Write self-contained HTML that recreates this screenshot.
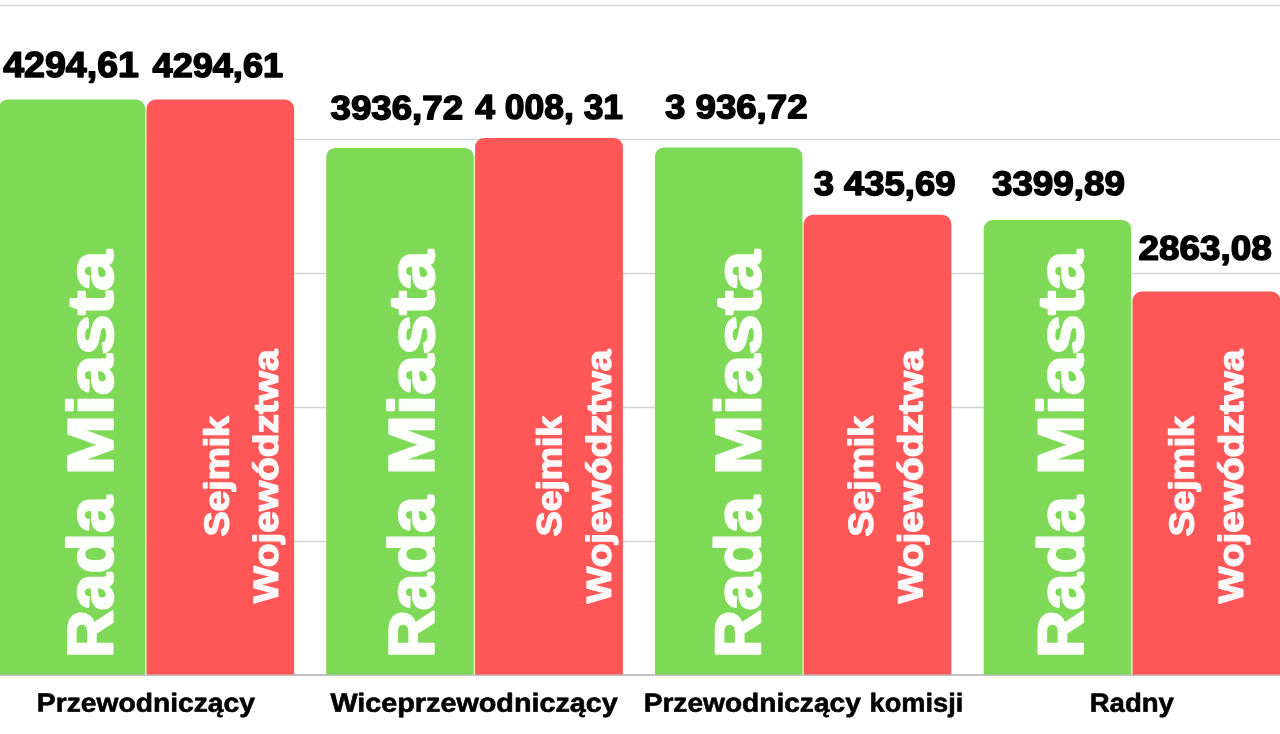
<!DOCTYPE html>
<html lang="pl">
<head>
<meta charset="utf-8">
<title>Diety radnych</title>
<style>
  html, body { margin: 0; padding: 0; background: #ffffff; }
  body { width: 1280px; height: 734px; overflow: hidden; font-family: "Liberation Sans", sans-serif; }
  svg { display: block; }
  text { font-family: "Liberation Sans", sans-serif; font-weight: bold; stroke-linejoin: round; }
  .val { fill: #000; stroke: #000; stroke-width: 1.5px; }
  .cat { fill: #000; stroke: #000; stroke-width: 0.6px; }
  .rada { fill: #fcfffa; stroke: #fcfffa; stroke-width: 2.4px; }
  .sejm { fill: #fff8f8; stroke: #fff8f8; stroke-width: 1.4px; }
  .grid { stroke: #d4d4d4; stroke-width: 1.5; }
  .g { fill: #7ed957; }
  .r { fill: #ff5757; }
</style>
</head>
<body>
<svg width="1280" height="734" viewBox="0 0 1280 734">
  <defs>
    <filter id="soft" filterUnits="userSpaceOnUse" x="-40" y="-40" width="1360" height="814" color-interpolation-filters="sRGB">
      <feGaussianBlur stdDeviation="0.45"/>
    </filter>
  </defs>
  <g filter="url(#soft)">
  <rect x="-40" y="-40" width="1360" height="814" fill="#ffffff"/>
  <!-- grid lines -->
  <line class="grid" x1="-20" y1="5.4" x2="1300" y2="5.4"/>
  <line class="grid" x1="-20" y1="139.4" x2="1300" y2="139.4"/>
  <line class="grid" x1="-20" y1="273.4" x2="1300" y2="273.4"/>
  <line class="grid" x1="-20" y1="407.4" x2="1300" y2="407.4"/>
  <line class="grid" x1="-20" y1="541.4" x2="1300" y2="541.4"/>
  <line x1="-20" y1="674.95" x2="1300" y2="674.95" stroke="#adadad" stroke-width="1.5"/>
  <!-- gap tint between paired bars -->
  <rect x="144.90" y="106.6" width="2.00" height="568.0" fill="#f3e9bd"/>
  <rect x="473.50" y="154.7" width="1.90" height="519.9" fill="#f3e9bd"/>
  <rect x="802.15" y="221.8" width="1.90" height="452.8" fill="#f3e9bd"/>
  <rect x="1130.90" y="298.5" width="2.00" height="376.1" fill="#f3e9bd"/>
  <!-- bars -->
  <path class="g" d="M-1.4 674.6 V108.6 a9 9 0 0 1 9 -9 H136.2 a9 9 0 0 1 9 9 V674.6 Z"/>
  <path class="r" d="M146.6 674.6 V108.6 a9 9 0 0 1 9 -9 H285.1 a9 9 0 0 1 9 9 V674.6 Z"/>
  <path class="g" d="M326.2 674.6 V156.9 a9 9 0 0 1 9 -9 H464.8 a9 9 0 0 1 9 9 V674.6 Z"/>
  <path class="r" d="M475.1 674.6 V147.0 a9 9 0 0 1 9 -9 H613.9 a9 9 0 0 1 9 9 V674.6 Z"/>
  <path class="g" d="M654.9 674.6 V156.5 a9 9 0 0 1 9 -9 H793.45 a9 9 0 0 1 9 9 V674.6 Z"/>
  <path class="r" d="M803.75 674.6 V223.8 a9 9 0 0 1 9 -9 H942.3 a9 9 0 0 1 9 9 V674.6 Z"/>
  <path class="g" d="M983.7 674.6 V229.0 a9 9 0 0 1 9 -9 H1122.2 a9 9 0 0 1 9 9 V674.6 Z"/>
  <path class="r" d="M1132.6 674.6 V300.5 a9 9 0 0 1 9 -9 H1271.4 a9 9 0 0 1 9 9 V674.6 Z"/>
  <!-- labels -->
  <text class="val" transform="translate(3.18 77.06) rotate(0.03)" font-size="36.03" textLength="135.83" lengthAdjust="spacingAndGlyphs">4294,61</text>
  <text class="val" transform="translate(152.58 77.06) rotate(0.03)" font-size="34.20" textLength="130.48" lengthAdjust="spacingAndGlyphs">4294,61</text>
  <text class="val" transform="translate(330.56 119.30) rotate(0.03)" font-size="33.69" textLength="132.50" lengthAdjust="spacingAndGlyphs">3936,72</text>
  <text class="val" transform="translate(475.31 118.74) rotate(0.03)" font-size="34.58" textLength="147.77" lengthAdjust="spacingAndGlyphs">4 008, 31</text>
  <text class="val" transform="translate(665.02 118.17) rotate(0.03)" font-size="33.85" textLength="142.49" lengthAdjust="spacingAndGlyphs">3 936,72</text>
  <text class="val" transform="translate(813.64 195.09) rotate(0.03)" font-size="33.97" textLength="141.76" lengthAdjust="spacingAndGlyphs">3 435,69</text>
  <text class="val" transform="translate(991.93 194.97) rotate(0.03)" font-size="34.01" textLength="133.02" lengthAdjust="spacingAndGlyphs">3399,89</text>
  <text class="val" transform="translate(1138.51 259.78) rotate(0.03)" font-size="34.31" textLength="133.34" lengthAdjust="spacingAndGlyphs">2863,08</text>
  <text class="cat" transform="translate(36.81 711.62) rotate(0.03)" font-size="26.30" textLength="218.11" lengthAdjust="spacingAndGlyphs">Przewodniczący</text>
  <text class="cat" transform="translate(330.41 711.66) rotate(0.03)" font-size="26.30" textLength="287.45" lengthAdjust="spacingAndGlyphs">Wiceprzewodniczący</text>
  <text class="cat" transform="translate(643.64 711.73) rotate(0.03)" font-size="26.30" textLength="217.18" lengthAdjust="spacingAndGlyphs">Przewodniczący</text>
  <text class="cat" transform="translate(869.59 711.72) rotate(0.03)" font-size="26.30" textLength="93.67" lengthAdjust="spacingAndGlyphs">komisji</text>
  <text class="cat" transform="translate(1089.71 711.65) rotate(0.03)" font-size="26.30" textLength="84.13" lengthAdjust="spacingAndGlyphs">Radny</text>
  <text class="rada" transform="translate(112.36 658.12) rotate(-89.97)" font-size="64.00" textLength="161.91" lengthAdjust="spacingAndGlyphs">Rada</text>
  <text class="rada" transform="translate(112.46 475.02) rotate(-89.97)" font-size="64.00" textLength="224.36" lengthAdjust="spacingAndGlyphs">Miasta</text>
  <text class="sejm" transform="translate(228.56 536.27) rotate(-89.97)" font-size="34.50" textLength="120.10" lengthAdjust="spacingAndGlyphs">Sejmik</text>
  <text class="sejm" transform="translate(277.66 603.09) rotate(-89.97)" font-size="34.50" textLength="253.67" lengthAdjust="spacingAndGlyphs">Województwa</text>
  <text class="rada" transform="translate(433.51 658.12) rotate(-89.97)" font-size="64.00" textLength="161.91" lengthAdjust="spacingAndGlyphs">Rada</text>
  <text class="rada" transform="translate(433.61 475.02) rotate(-89.97)" font-size="64.00" textLength="224.36" lengthAdjust="spacingAndGlyphs">Miasta</text>
  <text class="sejm" transform="translate(561.11 536.22) rotate(-89.97)" font-size="34.50" textLength="120.28" lengthAdjust="spacingAndGlyphs">Sejmik</text>
  <text class="sejm" transform="translate(610.65 603.24) rotate(-89.97)" font-size="34.50" textLength="253.57" lengthAdjust="spacingAndGlyphs">Województwa</text>
  <text class="rada" transform="translate(760.05 658.12) rotate(-89.97)" font-size="64.00" textLength="161.91" lengthAdjust="spacingAndGlyphs">Rada</text>
  <text class="rada" transform="translate(760.15 475.02) rotate(-89.97)" font-size="64.00" textLength="224.36" lengthAdjust="spacingAndGlyphs">Miasta</text>
  <text class="sejm" transform="translate(872.73 536.42) rotate(-89.97)" font-size="34.50" textLength="120.45" lengthAdjust="spacingAndGlyphs">Sejmik</text>
  <text class="sejm" transform="translate(922.27 603.18) rotate(-89.97)" font-size="34.50" textLength="253.76" lengthAdjust="spacingAndGlyphs">Województwa</text>
  <text class="rada" transform="translate(1082.85 658.12) rotate(-89.97)" font-size="64.00" textLength="161.91" lengthAdjust="spacingAndGlyphs">Rada</text>
  <text class="rada" transform="translate(1082.72 475.02) rotate(-89.97)" font-size="64.00" textLength="224.36" lengthAdjust="spacingAndGlyphs">Miasta</text>
  <text class="sejm" transform="translate(1193.48 536.37) rotate(-89.97)" font-size="34.50" textLength="120.22" lengthAdjust="spacingAndGlyphs">Sejmik</text>
  <text class="sejm" transform="translate(1242.81 603.18) rotate(-89.97)" font-size="34.50" textLength="253.50" lengthAdjust="spacingAndGlyphs">Województwa</text>
  </g>
</svg>
</body>
</html>
